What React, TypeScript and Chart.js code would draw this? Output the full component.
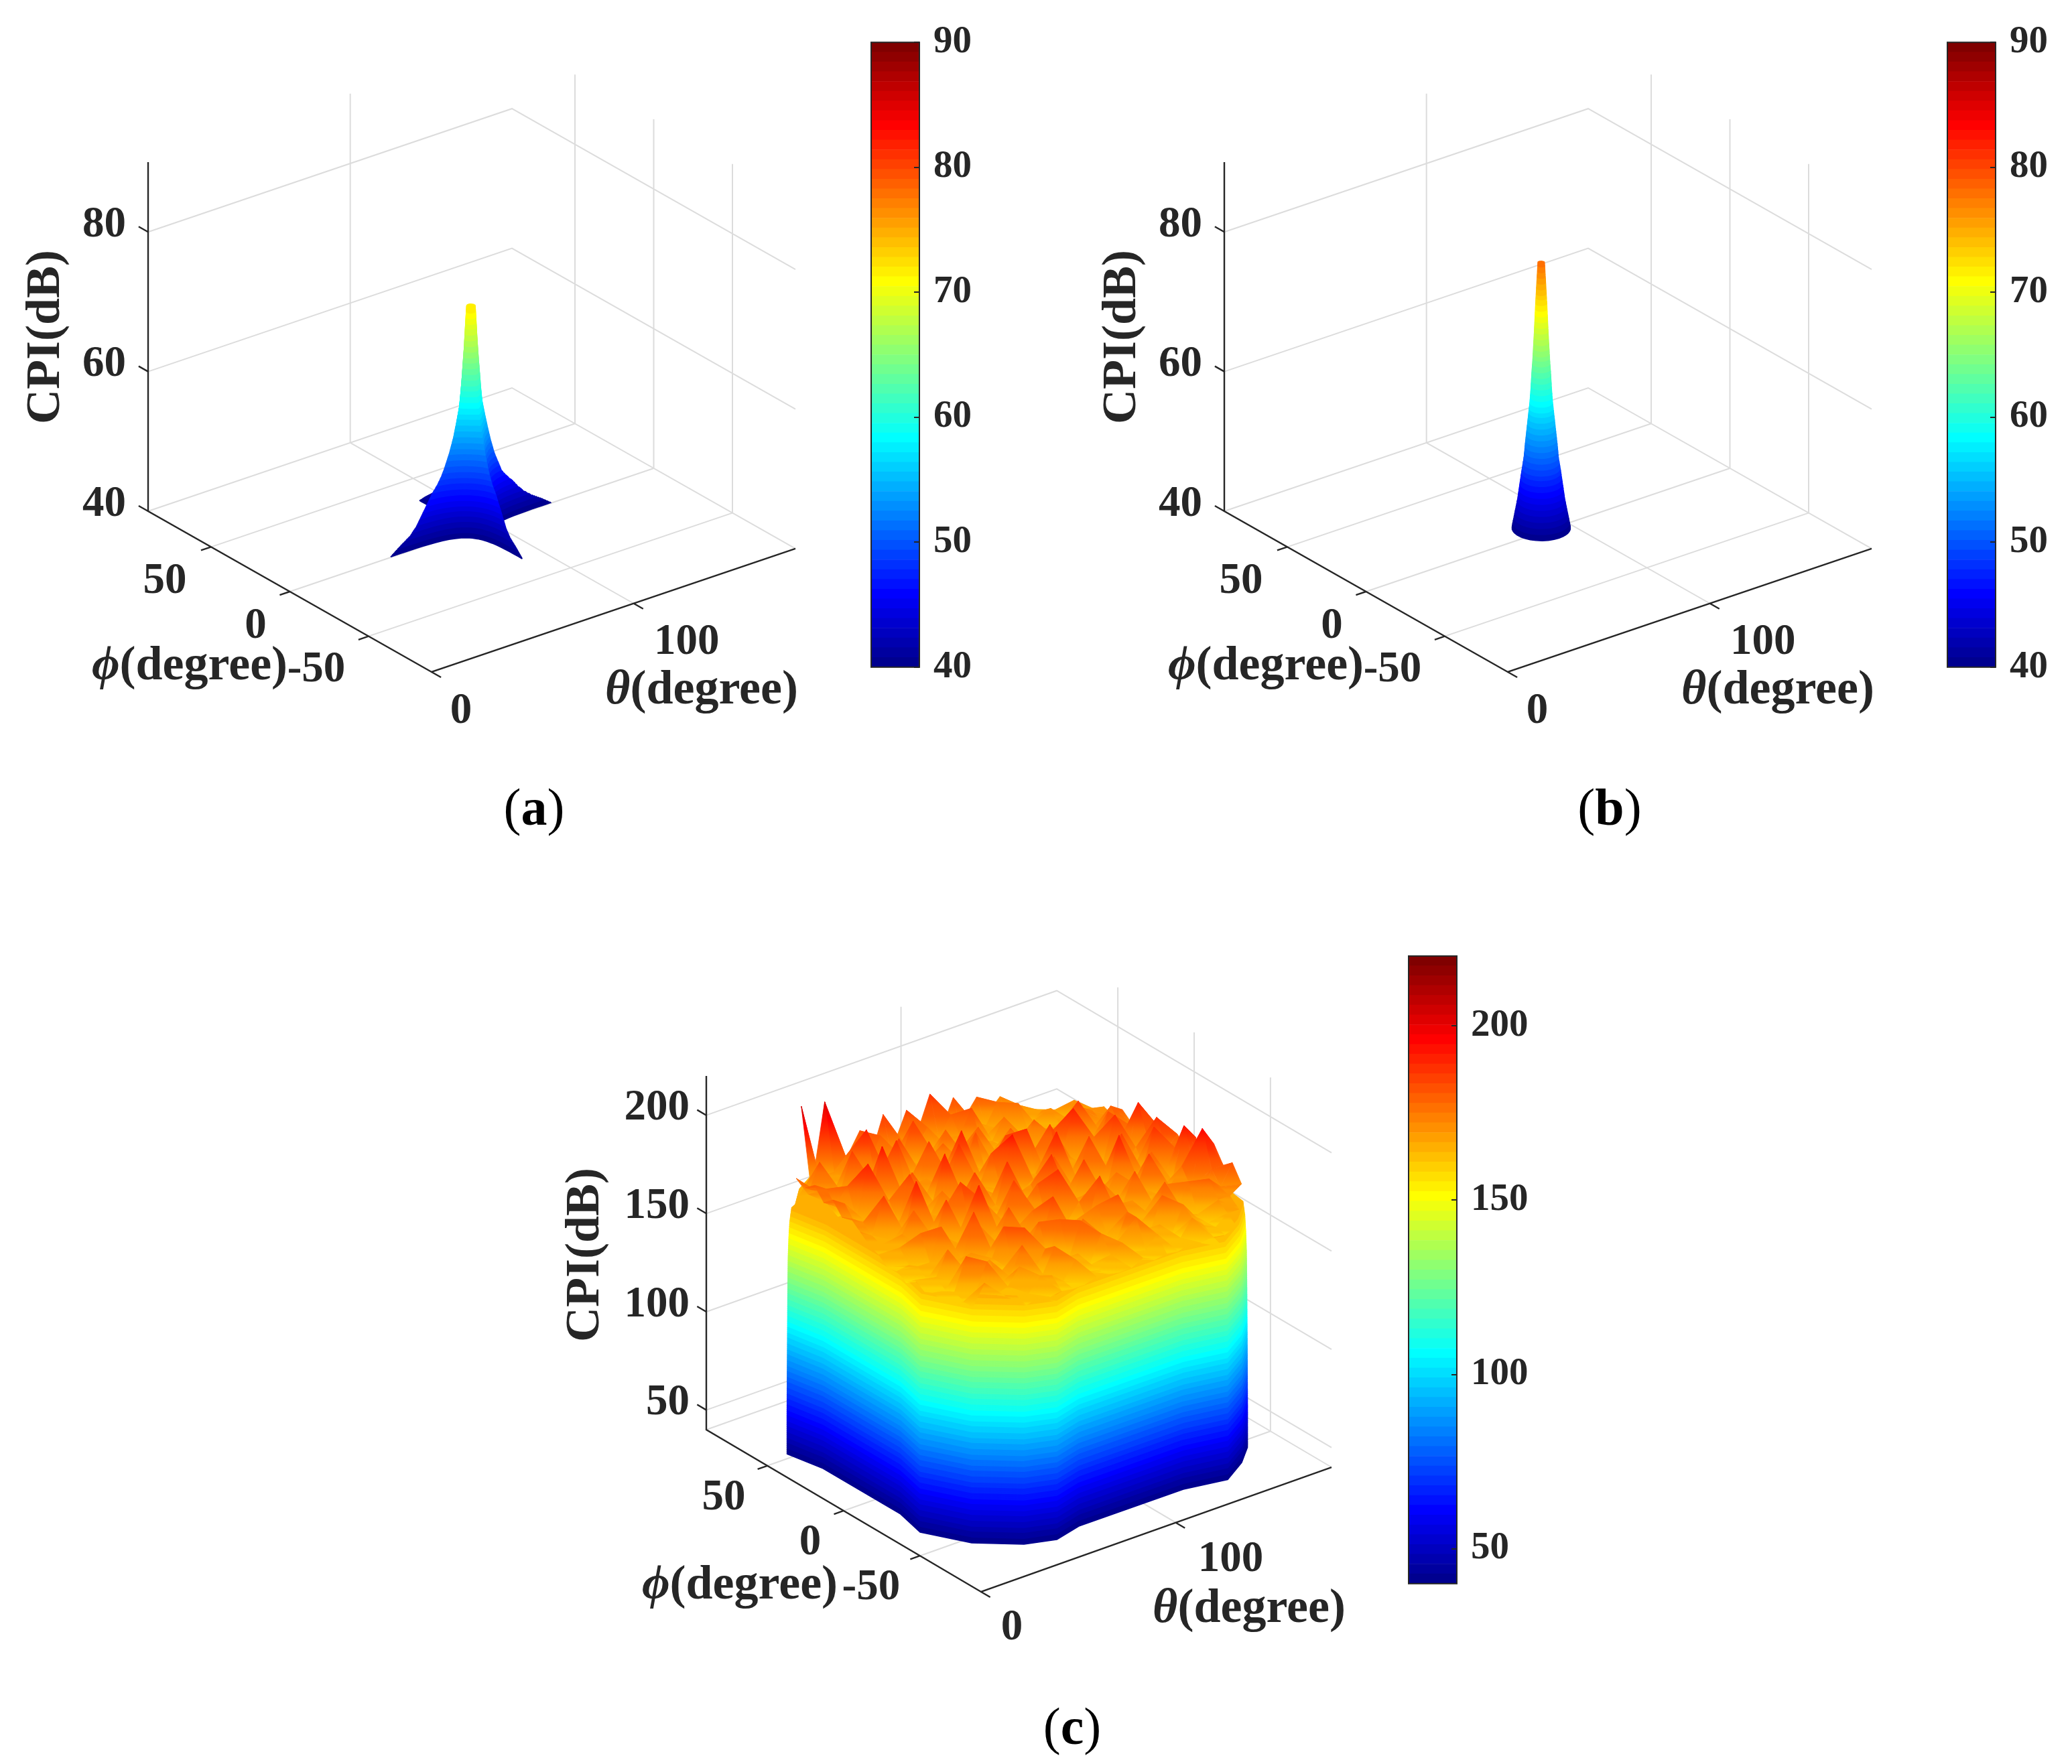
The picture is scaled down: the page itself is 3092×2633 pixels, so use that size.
import React, { useEffect, useRef } from "react";
import { Chart, registerables } from "chart.js";

Chart.register(...registerables);

const FONT = '"Liberation Serif"';
const INK = "#262626";
const GRID = "#dcdcdc";

/* ---------- axis ticks ---------- */
const thetaTicks = [0, 100];
const phiTicks = [-50, 0, 50];
const zTicksAB = [40, 60, 80];
const zTicksC = [50, 100, 150, 200];
const barTicksAB = [40, 50, 60, 70, 80, 90];
const barTicksC = [50, 100, 150, 200];

/* ---------- panel (a): star-shaped peak, contour reach per CPI level ---------- */
const starLevels = [40, 41, 42, 43, 44, 45, 46, 47, 48, 49, 50, 52, 54, 56, 58, 60, 62, 64, 66, 68, 70, 72];
const starFrontTheta = [39.5, 35, 30, 27, 25, 23, 21, 19, 16.5, 14.5, 13, 10.5, 8.5, 7, 5.6, 4.8, 4.1, 3.5, 2.9, 2.4, 2, 1.6];
const starFrontPhi = [32.4, 28.7, 24.6, 22.1, 20.5, 18.9, 17.2, 15.6, 13.5, 11.9, 10.7, 8.6, 7, 5.7, 4.6, 3.9, 3.4, 2.9, 2.4, 2, 1.7, 1.5];
const starBackTheta = [39.5, 35, 30, 26, 23, 20.5, 17.5, 15, 13.8, 12.5, 11.3, 9.5, 8, 6.6, 5.3, 4.6, 4, 3.4, 2.9, 2.4, 2, 1.6];
const starBackPhi = [32.4, 28.7, 24.6, 21.3, 18.9, 16.8, 14.4, 12.3, 11.3, 10.3, 9.3, 7.8, 6.6, 5.4, 4.5, 4, 3.5, 3.1, 2.7, 2.3, 1.9, 1.6];
const starPinch = [0.36, 0.39, 0.42, 0.46, 0.5, 0.54, 0.58, 0.62, 0.66, 0.7, 0.74, 0.82, 0.9, 1, 1.1, 1.2, 1.3, 1.4, 1.5, 1.7, 1.9, 2];

/* ---------- panel (b): narrow cone, radius per CPI level ---------- */
const coneLevels = [40, 42, 44, 46, 48, 50, 52, 54, 56, 58, 60, 62, 64, 66, 68, 70, 72, 74, 76, 78];
const coneRadius = [11.4, 10.3, 9.2, 8.4, 7.6, 6.7, 6.2, 5.6, 5, 4.4, 4, 3.7, 3.3, 3, 2.7, 2.45, 2.2, 1.9, 1.6, 1.3];

/* ---------- panel (c): wall outline and noisy plateau ---------- */
const wallTheta = [12.7, 16.3, 16.4, 12.8, 23.6, 39.6, 52.6, 67, 120.5, 140, 153.8, 164, 167, 163.6, 163.6, 167, 156, 140, 127, 113, 60, 40, 26, 16];
const wallPhi = [53.5, 34.4, -16.3, -33.7, -53.8, -67.6, -72.5, -68.6, -68.8, -73, -64.6, -55.4, -33, -16, 16, 33, 54, 68, 72, 69, 69, 73, 65, 55];
const wallLevels = [40, 60, 80, 100, 120, 140, 150, 158, 165];
const wallScale = [1, 1, 0.999, 0.998, 0.997, 0.995, 0.992, 0.988, 0.98];

const plateauTheta = [18, 24, 30, 36, 42, 48, 54, 60, 66, 72, 78, 84, 90, 96, 102, 108, 114, 120, 126, 132, 138, 144, 150, 156, 162];
const plateauPhi = [72, 66, 60, 54, 48, 42, 36, 30, 24, 18, 12, 6, 0, -6, -12, -18, -24, -30, -36, -42, -48, -54, -60, -66, -72];
const plateauRows = [
  [160, 158, 162, 160, 163, 158, 161, 164, 159, 162, 158, 160, 163, 159, 161, 158, 162, 160, 158, 161, 159, 163, 158, 160, 158],
  [162, 168, 205, 166, 203, 166, 172, 182, 168, 186, 170, 184, 172, 188, 168, 182, 170, 178, 168, 174, 166, 172, 168, 166, 158],
  [160, 164, 168, 164, 170, 176, 166, 168, 180, 166, 172, 166, 176, 168, 178, 166, 170, 166, 176, 164, 170, 166, 170, 170, 158],
  [178, 168, 182, 162, 166, 164, 190, 164, 166, 170, 186, 164, 168, 164, 170, 182, 164, 168, 164, 176, 164, 168, 166, 164, 158],
  [176, 172, 164, 168, 186, 164, 166, 168, 184, 164, 166, 170, 180, 166, 164, 168, 166, 176, 164, 166, 164, 172, 164, 172, 164],
  [180, 176, 160, 164, 162, 170, 164, 188, 164, 168, 164, 178, 164, 166, 180, 164, 166, 164, 166, 168, 164, 166, 166, 170, 168],
  [174, 170, 178, 164, 166, 192, 164, 166, 164, 186, 166, 164, 168, 182, 164, 166, 178, 166, 178, 164, 170, 166, 176, 172, 172],
  [178, 174, 164, 190, 164, 166, 168, 164, 172, 164, 168, 190, 164, 166, 164, 176, 164, 166, 164, 170, 164, 184, 166, 170, 170],
  [172, 168, 166, 164, 172, 164, 182, 166, 164, 166, 188, 164, 166, 170, 184, 164, 168, 164, 178, 164, 168, 164, 170, 180, 176],
  [174, 170, 164, 166, 164, 186, 164, 168, 190, 164, 166, 168, 182, 164, 166, 188, 164, 186, 166, 190, 164, 166, 182, 172, 172],
  [170, 166, 184, 164, 168, 164, 166, 176, 164, 166, 172, 164, 166, 192, 164, 168, 164, 166, 170, 164, 176, 164, 168, 176, 178],
  [166, 164, 164, 166, 190, 164, 168, 164, 166, 184, 164, 168, 164, 166, 170, 164, 190, 164, 166, 164, 166, 188, 164, 190, 174],
  [164, 162, 170, 180, 164, 166, 164, 186, 164, 166, 168, 188, 164, 172, 164, 182, 164, 166, 186, 164, 170, 164, 172, 174, 178],
  [160, 168, 164, 164, 166, 184, 164, 166, 178, 164, 166, 164, 168, 164, 188, 164, 166, 172, 164, 168, 186, 166, 164, 188, 172],
  [161, 162, 176, 164, 170, 164, 164, 190, 164, 168, 186, 164, 180, 164, 166, 164, 184, 164, 166, 190, 164, 168, 188, 174, 180],
  [158, 164, 164, 180, 164, 166, 176, 164, 166, 164, 164, 172, 164, 188, 164, 170, 164, 166, 176, 164, 166, 180, 164, 178, 176],
  [162, 160, 166, 164, 164, 186, 164, 166, 182, 164, 176, 164, 166, 164, 172, 164, 178, 164, 164, 170, 184, 164, 166, 192, 184],
  [159, 164, 176, 162, 170, 164, 164, 172, 164, 166, 164, 184, 164, 168, 164, 186, 164, 168, 182, 164, 166, 168, 176, 176, 172],
  [161, 160, 162, 164, 162, 168, 182, 164, 166, 178, 164, 162, 166, 164, 176, 162, 164, 172, 164, 164, 174, 164, 168, 196, 186],
  [159, 162, 178, 160, 172, 164, 162, 182, 164, 162, 180, 164, 176, 162, 164, 182, 162, 164, 164, 180, 162, 176, 164, 178, 178],
  [161, 160, 162, 176, 162, 164, 178, 162, 172, 164, 162, 180, 162, 168, 162, 176, 164, 162, 178, 162, 164, 162, 178, 172, 182],
  [159, 160, 170, 162, 164, 172, 162, 164, 176, 162, 168, 160, 174, 162, 160, 176, 162, 168, 160, 174, 166, 160, 170, 170, 174],
  [160, 160, 161, 164, 162, 161, 168, 166, 161, 170, 162, 160, 166, 170, 160, 162, 168, 161, 162, 170, 164, 161, 166, 166, 158],
  [159, 160, 160, 161, 160, 162, 160, 161, 160, 160, 162, 161, 160, 160, 163, 160, 161, 160, 162, 160, 161, 160, 162, 160, 159],
  [160, 159, 160, 160, 161, 160, 160, 161, 160, 159, 160, 160, 161, 160, 160, 159, 160, 161, 160, 160, 159, 160, 160, 159, 158],
];

/* ---------- MATLAB jet(64) colour map ---------- */
const jetRamp = (j: number) => {
  if (j < 1 || j > 47) return 0;
  if (j <= 16) return j / 16;
  if (j <= 31) return 1;
  return (48 - j) / 16;
};
const jetIndex = (i: number) => {
  const c = (v: number) => Math.round(255 * v);
  return `rgb(${c(jetRamp(i - 24))},${c(jetRamp(i - 8))},${c(jetRamp(i + 8))})`;
};
const jet = (z: number, lo: number, hi: number) => {
  const i = Math.max(1, Math.min(64, Math.floor(((z - lo) / (hi - lo)) * 64) + 1));
  return jetIndex(i);
};

/* ---------- box view: a point (theta, phi, z) on the two chart scales ---------- */
type P = any;
const view = (p: P, th: number, ph: number, z: number) => {
  const t = th / 180;
  const f = (90 - ph) / 180;
  return { x: t * p.thetaRunX + f * p.phiRunX, y: z + t * p.thetaRise - f * p.phiDrop };
};

const lineSet = (pts: any[], color: string, width: number) => ({
  showLine: true, data: pts, borderColor: color, backgroundColor: color, borderWidth: width,
  pointRadius: 0, pointHitRadius: 0, fill: false, clip: false, tension: 0,
});
const polySet = (pts: any[], color: any, width = 1.5) => ({
  showLine: true, data: [...pts, pts[0]], borderColor: color, backgroundColor: color, borderWidth: width,
  borderJoinStyle: "round", pointRadius: 0, pointHitRadius: 0, fill: "shape", tension: 0,
});

const boxSets = (p: P) => {
  const { zMin, zMax, zTicks } = p;
  const v = (a: number, b: number, c: number) => view(p, a, b, c);
  const out: any[] = [];
  // back walls and floor
  [zMin, ...zTicks.filter((z: number) => z !== zMin)].forEach((z: number) =>
    out.push(lineSet([v(0, 90, z), v(180, 90, z), v(180, -90, z)], GRID, 2)));
  phiTicks.forEach((ph) => {
    out.push(lineSet([v(0, ph, zMin), v(180, ph, zMin)], GRID, 2));
    out.push(lineSet([v(180, ph, zMin), v(180, ph, zMax)], GRID, 2));
  });
  thetaTicks.filter((t) => t > 0).forEach((t) => {
    out.push(lineSet([v(t, -90, zMin), v(t, 90, zMin)], GRID, 2));
    out.push(lineSet([v(t, 90, zMin), v(t, 90, zMax)], GRID, 2));
  });
  // axes in front
  out.push(lineSet([v(0, 90, zMax), v(0, 90, zMin), v(0, -90, zMin), v(180, -90, zMin)], INK, 2.4));
  zTicks.forEach((z: number) => out.push(lineSet([v(0, 90, z), v(0, 96, z)], INK, 2.4)));
  phiTicks.forEach((ph) => out.push(lineSet([v(0, ph, zMin), v(-5, ph, zMin)], INK, 2.4)));
  thetaTicks.forEach((t) => out.push(lineSet([v(t, -90, zMin), v(t, -96, zMin)], INK, 2.4)));
  return out;
};

/* sweep a closed contour up through a table of levels */
const sweep = (p: P, levels: number[], step: number, width: number, ring: (i: number, f: number) => number[][]) => {
  const out: any[] = [];
  const top = levels[levels.length - 1];
  for (let z = levels[0]; z <= top + 1e-6; z += step) {
    let i = 0;
    while (i < levels.length - 2 && z > levels[i + 1]) i++;
    const f = (z - levels[i]) / (levels[i + 1] - levels[i]);
    const pts = ring(i, f).map(([a, b]) => view(p, a, b, z));
    out.push(polySet(pts, jet(z, p.cMin, p.cMax), width));
  }
  return out;
};
const mix = (a: number[], i: number, f: number) => a[i] + (a[i + 1] - a[i]) * f;

const starSets = (p: P) =>
  sweep(p, starLevels, 0.1, 2.2, (i, f) => {
    const frontT = mix(starFrontTheta, i, f);
    const backT = mix(starBackTheta, i, f);
    const frontP = mix(starFrontPhi, i, f);
    const backP = mix(starBackPhi, i, f);
    const e = 2 / mix(starPinch, i, f);
    const ring: number[][] = [];
    for (let k = 0; k < 120; k++) {
      const s = (k / 120) * Math.PI * 2;
      const c = Math.cos(s);
      const d = Math.sin(s);
      ring.push([
        90 + (c < 0 ? -frontT : backT) * Math.abs(c) ** e,
        0.5 + (d < 0 ? -frontP : backP) * Math.abs(d) ** e,
      ]);
    }
    return ring;
  });

const coneSets = (p: P) =>
  sweep(p, coneLevels, 0.2, 1.5, (i, f) => {
    const r = mix(coneRadius, i, f);
    const ring: number[][] = [];
    for (let k = 0; k < 60; k++) {
      const s = (k / 60) * Math.PI * 2;
      ring.push([89 + r * Math.cos(s), 3 + r * Math.sin(s)]);
    }
    return ring;
  });

const inWall = (th: number, ph: number) => {
  let inside = false;
  for (let a = 0, b = wallTheta.length - 1; a < wallTheta.length; b = a++) {
    const hit = wallPhi[a] > ph !== wallPhi[b] > ph &&
      th < ((wallTheta[b] - wallTheta[a]) * (ph - wallPhi[a])) / (wallPhi[b] - wallPhi[a]) + wallTheta[a];
    if (hit) inside = !inside;
  }
  return inside;
};

const plateauSets = (p: P) => {
  const walls = sweep(p, wallLevels, 0.5, 1.5, (i, f) => {
    const s = mix(wallScale, i, f);
    return wallTheta.map((t, k) => [90 + (t - 90) * s, wallPhi[k] * s]);
  });
  const tri = (corners: number[][]) => {
    if (corners.some(([a, b, c]) => !Number.isFinite(c) || !inWall(a, b))) return null;
    const pts = corners.map(([a, b, c]) => view(p, a, b, c));
    const zs = corners.map((c) => c[2]);
    const hiAt = zs.indexOf(Math.max(...zs));
    const loAt = zs.indexOf(Math.min(...zs));
    let grad: any = null;
    const paint = (c: any) => {
      if (grad) return grad;
      const chart = c.chart;
      const y0 = chart.scales.y.getPixelForValue(pts[hiAt].y);
      let y1 = chart.scales.y.getPixelForValue(pts[loAt].y);
      if (!Number.isFinite(y0) || !Number.isFinite(y1) || !chart.chartArea) return jet(zs[hiAt], p.cMin, p.cMax);
      if (Math.abs(y1 - y0) < 1) y1 = y0 + 1;
      grad = chart.ctx.createLinearGradient(0, y0, 0, y1);
      for (let k = 0; k <= 4; k++) {
        grad.addColorStop(k / 4, jet(zs[hiAt] + ((zs[loAt] - zs[hiAt]) * k) / 4, p.cMin, p.cMax));
      }
      return grad;
    };
    return polySet(pts, paint, 0.8);
  };
  const mesh: any[] = [];
  for (let j = 0; j < plateauPhi.length - 1; j++) {
    for (let i = plateauTheta.length - 2; i >= 0; i--) {
      const hiRow = plateauRows[j];
      const loRow = plateauRows[j + 1];
      const A = [plateauTheta[i], plateauPhi[j + 1], loRow[i]];
      const B = [plateauTheta[i + 1], plateauPhi[j + 1], loRow[i + 1]];
      const C = [plateauTheta[i + 1], plateauPhi[j], hiRow[i + 1]];
      const D = [plateauTheta[i], plateauPhi[j], hiRow[i]];
      const back = tri([B, C, D]);
      const front = tri([A, B, D]);
      if (back) mesh.push(back);
      if (front) mesh.push(front);
    }
  }
  return [...walls, ...mesh];
};

/* ---------- layouts ---------- */
const abView = {
  width: 1290, height: 1280, plotLeft: 221, plotRight: 1187, plotTop: 242, plotBottom: 1100,
  zMin: 40, zMax: 90, viewMin: 7.66, cMin: 40, cMax: 90, zTicks: zTicksAB,
  thetaRunX: 543 / 966, phiRunX: 423 / 966, thetaRise: 17.66, phiDrop: 23.03,
  zPad: 25, zLift: -10,
  thetaOff: [[44, 59], [79, 58]],
  phiOff: [[-78, 51], [-51, 52], [-69, 52]],
  cpiAt: [69, 503], phiAt: [283, 995], thetaAt: [1047, 1031],
};
const panelA = { ...abView, left: 0, top: 0, surface: starSets };
const panelB = { ...abView, left: 1606, top: 0, surface: coneSets };
const panelC = {
  left: 800, top: 1400, width: 1290, height: 1150, plotLeft: 254, plotRight: 1187, plotTop: 206, plotBottom: 1076,
  zMin: 40, zMax: 220, viewMin: -76.6, cMin: 40, cMax: 220, zTicks: zTicksC,
  thetaRunX: 523 / 933, phiRunX: 410 / 933, thetaRise: 63.4, phiDrop: 82.5,
  zPad: 17, zLift: -10,
  thetaOff: [[46, 54], [82, 56]],
  phiOff: [[-73, 48], [-50, 48], [-65, 48]],
  cpiAt: [74, 473], phiAt: [304, 967], thetaAt: [1064, 1002],
  surface: plateauSets,
};

const textPlugin = (p: P) => ({
  id: "boxText",
  afterDatasetsDraw(chart: any) {
    const { ctx, scales } = chart;
    const at = (a: number, b: number, c: number) => {
      const q = view(p, a, b, c);
      return [scales.x.getPixelForValue(q.x), scales.y.getPixelForValue(q.y)];
    };
    ctx.save();
    ctx.fillStyle = INK;
    ctx.textBaseline = "middle";
    ctx.textAlign = "center";
    ctx.font = `bold 65px ${FONT}`;
    thetaTicks.forEach((t, k) => {
      const [x, y] = at(t, -90, p.zMin);
      ctx.fillText(String(t), x + p.thetaOff[k][0], y + p.thetaOff[k][1]);
    });
    phiTicks.forEach((ph, k) => {
      const [x, y] = at(0, ph, p.zMin);
      ctx.fillText(String(ph), x + p.phiOff[k][0], y + p.phiOff[k][1]);
    });
    const greek = (sym: string, pos: number[]) => {
      const rest = "(degree)";
      ctx.font = `italic bold 72px ${FONT}`;
      const w0 = ctx.measureText(sym).width;
      ctx.font = `bold 72px ${FONT}`;
      const w1 = ctx.measureText(rest).width;
      const x0 = pos[0] - (w0 + w1) / 2;
      ctx.textAlign = "left";
      ctx.font = `italic bold 72px ${FONT}`;
      ctx.fillText(sym, x0, pos[1]);
      ctx.font = `bold 72px ${FONT}`;
      ctx.fillText(rest, x0 + w0, pos[1]);
    };
    greek("\u03D5", p.phiAt);
    greek("\u03B8", p.thetaAt);
    ctx.translate(p.cpiAt[0], p.cpiAt[1]);
    ctx.rotate(-Math.PI / 2);
    ctx.textAlign = "center";
    ctx.font = `bold 72px ${FONT}`;
    ctx.fillText("CPI(dB)", 0, 0);
    ctx.restore();
  },
});

function Panel({ p }: { p: P }) {
  const ref = useRef<HTMLCanvasElement>(null);
  useEffect(() => {
    const sets = [...boxSets(p), ...p.surface(p)];
    sets.forEach((d: any, i: number) => { d.order = sets.length - i; });
    const chart = new Chart(ref.current as any, {
      type: "scatter",
      data: { datasets: sets },
      plugins: [textPlugin(p)],
      options: {
        responsive: false, animation: false, devicePixelRatio: 1, events: [],
        layout: { padding: { left: 0, top: p.plotTop, right: p.width - p.plotRight, bottom: p.height - p.plotBottom } },
        plugins: { legend: { display: false }, tooltip: { enabled: false } },
        scales: {
          x: { type: "linear", display: false, min: 0, max: 1 },
          y: {
            type: "linear", min: p.viewMin, max: p.zMax,
            grid: { display: false }, border: { display: false },
            afterFit: (a: any) => { a.width = p.plotLeft; },
            afterBuildTicks: (a: any) => { a.ticks = p.zTicks.map((value: number) => ({ value })); },
            ticks: {
              autoSkip: false, padding: p.zPad, labelOffset: p.zLift, color: INK,
              font: { family: FONT, weight: "bold", size: 65 }, callback: (v: any) => String(v),
            },
          },
        },
      },
    } as any);
    return () => chart.destroy();
  }, [p]);
  return <canvas ref={ref} width={p.width} height={p.height}
    style={{ position: "absolute", left: p.left, top: p.top, width: p.width, height: p.height }} />;
}

function Colorbar({ left, top, bottom, barLeft, min, max, ticks }: any) {
  const ref = useRef<HTMLCanvasElement>(null);
  const W = 190;
  const barW = 72;
  useEffect(() => {
    const bins = Array.from({ length: 64 }, (_, i) => i);
    const frame = {
      id: "frame",
      afterDraw(chart: any) {
        const { ctx, chartArea: a } = chart;
        ctx.save();
        ctx.strokeStyle = INK;
        ctx.lineWidth = 2;
        ctx.strokeRect(a.left, a.top, a.right - a.left, a.bottom - a.top);
        ctx.restore();
      },
    };
    const chart = new Chart(ref.current as any, {
      type: "bar",
      data: {
        labels: [""],
        datasets: bins.map((i) => ({
          data: [[min + ((max - min) * i) / 64, min + ((max - min) * (i + 1)) / 64]],
          backgroundColor: jetIndex(i + 1), borderWidth: 0, grouped: false, barPercentage: 1, categoryPercentage: 1,
        })),
      },
      plugins: [frame],
      options: {
        responsive: false, animation: false, devicePixelRatio: 1, events: [],
        layout: { padding: { left: barLeft, right: 0, top, bottom: 60 } },
        plugins: { legend: { display: false }, tooltip: { enabled: false } },
        scales: {
          x: { display: false },
          y: {
            position: "right", min, max,
            grid: { drawOnChartArea: false, tickLength: -8, color: INK, lineWidth: 2, z: 1 },
            border: { display: false },
            afterFit: (a: any) => { a.width = W - barLeft - barW; },
            afterBuildTicks: (a: any) => { a.ticks = ticks.map((value: number) => ({ value })); },
            ticks: {
              autoSkip: false, padding: 29, color: INK,
              font: { family: FONT, weight: "bold", size: 57 }, callback: (v: any) => String(v),
            },
          },
        },
      },
    } as any);
    return () => chart.destroy();
  }, []);
  return <canvas ref={ref} width={W} height={bottom + 60}
    style={{ position: "absolute", left, top: 0, width: W, height: bottom + 60 }} />;
}

const caption = (letter: string, x: number, y: number) => (
  <div style={{
    position: "absolute", left: x, top: y, transform: "translate(-50%,-50%)",
    font: `78px ${FONT}`, color: "#000", whiteSpace: "nowrap",
  }}>(<b>{letter}</b>)</div>
);

export default function App() {
  return (
    <div style={{ position: "absolute", left: 0, top: 0, width: 3092, height: 2633, background: "#fff", overflow: "hidden" }}>
      <Panel p={panelA} />
      <Panel p={panelB} />
      <Panel p={panelC} />
      <Colorbar left={1290} top={59} bottom={999} barLeft={10} min={40} max={90} ticks={barTicksAB} />
      <Colorbar left={2896} top={59} bottom={999} barLeft={10} min={40} max={90} ticks={barTicksAB} />
      <Colorbar left={2092} top={1427} bottom={2367} barLeft={10} min={40} max={220} ticks={barTicksC} />
      {caption("a", 797, 1205)}
      {caption("b", 2402, 1205)}
      {caption("c", 1600, 2577)}
    </div>
  );
}
